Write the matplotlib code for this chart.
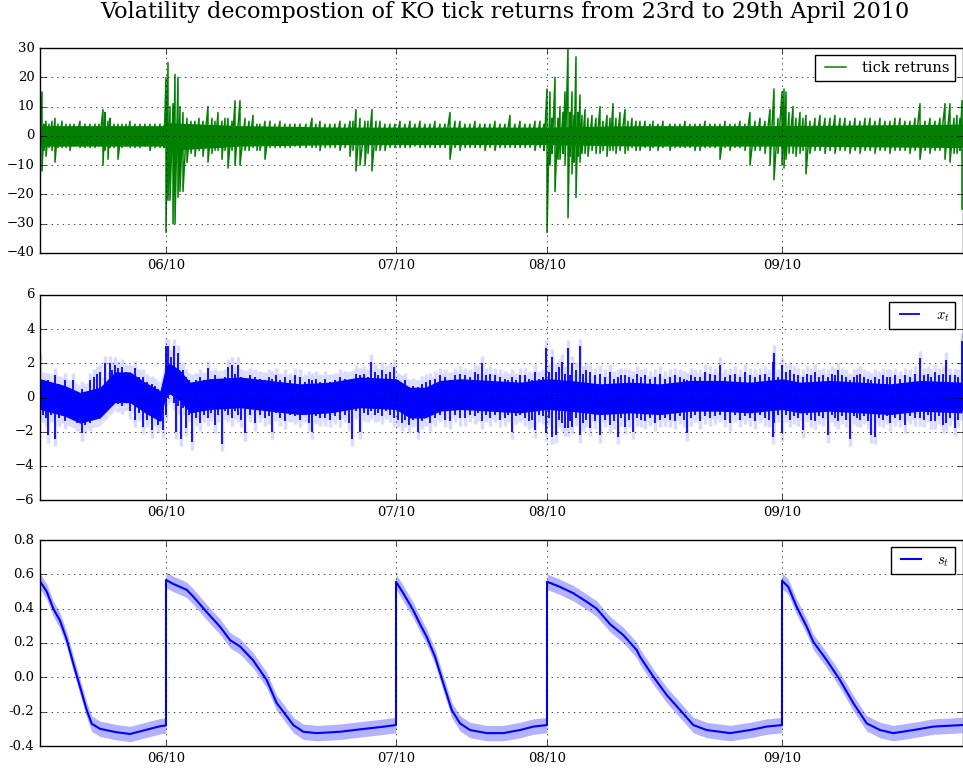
import numpy as np
import matplotlib
matplotlib.use('Agg')
import matplotlib.pyplot as plt

# x axis is tick number (in hundreds) over the five trading days
day_starts = [126, 356, 507, 742]
day_labels = ['06/10', '07/10', '08/10', '09/10']
x_end = 922.5

# --- tick returns: core band + high/low of each small bucket of ticks ---
tr_band_x = [0, 126, 127, 200, 300, 507, 600, 742, 922]
tr_band_hi = [3.5, 3.5, 4.5, 3.5, 3, 3, 3.5, 3.5, 4]
tr_band_lo = [-3.5, -3.5, -5, -3.5, -3, -3, -3.5, -3.5, -4]

tr_x = [0, 2, 4, 6, 9, 12, 15, 18, 22, 26, 30, 34, 40, 45, 50, 55, 59, 63, 65, 68, 70, 74, 78, 82, 86,
        90, 95, 100, 105, 110, 115, 120, 124,
        126, 128, 130, 133, 135, 138, 140, 143, 147, 151, 155, 159, 163, 168, 172, 175, 178, 182, 185,
        188, 192, 195, 200, 205, 209, 213, 217, 220, 225, 230, 235, 240, 245, 250, 255, 260, 266, 272,
        276, 280, 285, 290, 295, 300, 305, 310, 313, 316, 320, 325, 328, 332, 336, 340, 345, 350, 355,
        360, 365, 370, 375, 380, 385, 390, 395, 400, 405, 410, 415, 420, 425, 430, 435, 440, 445, 450,
        455, 460, 465, 470, 475, 480, 485, 490, 495, 500, 504,
        507, 510, 512, 515, 518, 520, 523, 525, 528, 530, 532, 534, 536, 538, 540, 542, 545, 548, 552,
        556, 560, 563, 567, 570, 573, 576, 580, 585, 588, 592, 596, 600, 605, 610, 613, 618, 623, 630,
        635, 640, 645, 650, 655, 660, 665, 670, 675, 680, 685, 690, 695, 700, 705, 710, 715, 720, 725,
        730, 734, 738,
        742, 744, 746, 749, 753, 756, 760, 763, 766, 770, 775, 780, 785, 790, 795, 800, 805, 810, 815,
        820, 825, 830, 835, 840, 845, 850, 855, 860, 865, 870, 875, 880, 885, 890, 895, 900, 905, 910,
        914, 917, 920, 922]
tr_hi = [5, 15, 4, 5, 4, 5, 6, 4, 5, 4, 4, 4, 5, 4, 4, 4, 4, 9, 8, 5, 6, 4, 4, 4, 4,
         5, 4, 4, 4, 4, 4, 4, 3.5,
         20, 25, 10, 11, 21, 20, 10, 8, 6, 5, 5, 6, 5, 10, 6, 5, 8, 5, 6,
         6, 5, 12, 12, 6, 5, 7, 4, 4, 5, 5, 4, 5, 4, 4, 4, 4, 4, 6,
         4, 5, 4, 4, 4, 5, 4, 5, 5, 9, 6, 5, 5, 9, 5, 5, 4, 4, 4,
         5, 4, 5, 4, 5, 4, 4, 5, 4, 4, 8, 5, 5, 4, 4, 5, 4, 4, 4,
         5, 4, 4, 7, 4, 5, 4, 4, 5, 5, 4,
         16, 15, 6, 20, 6, 10, 8, 15, 30, 8, 15, 7, 27, 8, 14, 7, 9, 6, 7,
         6, 10, 5, 7, 6, 11, 6, 8, 9, 5, 6, 5, 5, 5, 4, 5, 4, 5, 4,
         4, 4, 5, 4, 4, 4, 5, 4, 4, 4, 5, 4, 4, 5, 4, 8, 5, 6, 5,
         9, 16, 6,
         15, 16, 15, 8, 10, 6, 8, 6, 7, 5, 6, 7, 6, 6, 7, 6, 6, 5, 6,
         5, 6, 6, 5, 6, 5, 5, 6, 6, 5, 5, 6, 11, 5, 6, 5, 6, 11, 11,
         6, 7, 6, 12]
tr_lo = [-6, -12, -5, -7, -4, -5, -9, -4, -4, -4, -5, -3.5, -4, -4, -4, -4, -3.5, -10, -5, -8, -4, -4, -8, -4, -3.5,
         -4, -4, -4, -3.5, -5, -4, -4, -4,
         -33, -22, -22, -30, -30, -21, -19, -19, -9, -6, -7, -5, -7, -9, -6, -5, -5, -8, -5,
         -11, -5, -10, -10, -5, -5, -4, -5, -5, -8, -4, -4, -4, -4, -4, -3.5, -4, -4, -4,
         -4, -5, -4, -4, -4, -5, -4, -7, -5, -12, -10, -10, -6, -12, -5, -5, -5, -4, -4,
         -4, -4, -4, -3.5, -4, -4, -4, -4, -4, -4, -8, -4, -5, -4, -4, -4, -4, -5, -4,
         -5, -4, -4, -4, -4, -4, -4, -4, -5, -4, -5,
         -33, -10, -6, -19, -8, -8, -6, -10, -28, -7, -13, -9, -21, -7, -9, -6, -6, -7, -5,
         -6, -6, -5, -7, -5, -5, -6, -5, -6, -5, -4, -5, -5, -4, -5, -4, -5, -4, -5,
         -4, -4, -4, -4, -5, -5, -4, -4, -4, -8, -4, -5, -4, -4, -5, -10, -5, -5, -6,
         -10, -15, -6,
         -10, -11, -8, -6, -6, -7, -6, -5, -13, -6, -5, -5, -6, -5, -6, -5, -5, -6, -5,
         -6, -5, -5, -6, -5, -5, -6, -5, -5, -5, -6, -5, -8, -5, -6, -5, -5, -8, -9,
         -6, -6, -5, -25]

# --- x_t: core of the dense line, confidence halo, bucket highs/lows ---
xt_band_x = [0, 25, 40, 60, 75, 90, 105, 120, 126, 130, 140, 150, 170, 200, 230, 260, 290, 320,
             356, 370, 385, 400, 420, 450, 480, 507, 530, 560, 590, 620, 650, 680, 710, 742, 760, 790,
             820, 850, 880, 922]
xt_mean = [0.2, -0.2, -0.6, -0.3, 0.6, 0.6, 0.0, -0.5, 1.0, 1.1, 0.7, 0.0, 0.2, 0.3, 0.1, -0.1, 0.0, 0.3,
           0.2, -0.3, -0.3, 0.1, 0.2, 0.1, 0.0, 0.2, 0.1, -0.1, 0.0, -0.1, 0.1, 0.1, 0.0, 0.2, 0.0, 0.1,
           0.0, -0.1, 0.1, 0.0]
xt_half = 0.9
xt_ci_pad = 0.45

xt_x = [0, 3, 6, 8, 11, 15, 19, 22, 25, 29, 33, 37, 42, 45, 50, 54, 57, 60, 65, 70, 72, 75, 78, 82, 86,
        90, 95, 99, 103, 107, 112, 115, 118, 121, 123,
        126, 128, 131, 134, 136, 138, 141, 143, 146, 149, 152, 156, 160, 164, 168, 171, 175, 178, 182,
        185, 188, 192, 195, 198, 201, 205, 210, 215, 220, 225, 229, 232, 236, 240, 245, 250, 255, 260,
        265, 269, 272, 276, 280, 285, 290, 295, 300, 305, 309, 312, 316, 320, 324, 328, 331, 335, 338,
        342, 346, 350, 354,
        358, 362, 365, 369, 373, 378, 382, 386, 390, 395, 400, 405, 410, 415, 420, 425, 430, 435, 438,
        442, 446, 450, 455, 460, 465, 468, 472, 476, 480, 485, 489, 492, 495, 499, 503,
        506, 509, 512, 516, 519, 522, 525, 528, 530, 532, 536, 540, 543, 546, 550, 555, 560, 565, 570,
        574, 578, 581, 585, 589, 593, 597, 601, 605, 610, 615, 620, 625, 630, 635, 640, 644, 647, 651,
        655, 660, 665, 670, 675, 680, 685, 690, 695, 700, 705, 710, 715, 720, 725, 729, 733, 734, 738,
        742, 746, 750, 754, 758, 763, 767, 771, 775, 779, 783, 788, 792, 795, 798, 802, 806, 810, 814,
        817, 820, 824, 828, 831, 835, 839, 843, 847, 850, 855, 860, 865, 870, 875, 880, 884, 888, 891,
        895, 899, 903, 906, 910, 915, 918, 922]
xt_hi = [2.1, 1.0, 0.8, 1.0, 0.6, 1.3, 0.8, 0.6, 1.0, 0.5, 1.0, 0.3, 0.5, 0.2, 1.0, 1.2, 1.4, 1.5, 2.0, 2.0, 1.6, 1.9, 1.7, 1.8, 1.5,
         1.4, 1.7, 1.2, 1.2, 0.9, 0.8, 0.7, 0.5, 0.4, 0.3,
         3.0, 3.0, 2.4, 3.0, 1.5, 2.6, 1.5, 1.6, 1.2, 1.0, 0.8, 1.0, 1.2, 1.0, 1.7, 1.1, 1.3, 1.0, 0.8,
         1.2, 1.8, 1.9, 1.4, 1.9, 1.2, 1.0, 1.3, 1.2, 1.1, 1.0, 1.2, 1.1, 1.3, 1.0, 1.2, 1.0, 1.3, 1.2,
         0.9, 1.1, 1.0, 1.1, 0.9, 1.1, 0.9, 1.0, 1.2, 1.1, 1.0, 1.0, 1.4, 1.3, 1.4, 1.2, 2.1, 1.5, 1.3,
         1.6, 1.4, 1.5, 1.8,
         1.0, 0.8, 1.0, 0.6, 0.7, 0.6, 0.8, 0.9, 1.0, 1.1, 1.3, 1.2, 1.0, 1.3, 1.4, 1.3, 1.2, 1.5, 1.4,
         2.0, 1.3, 1.4, 1.3, 1.2, 1.1, 1.0, 1.2, 1.0, 1.3, 1.3, 1.1, 1.0, 1.5, 1.1, 1.2,
         2.9, 1.5, 2.4, 1.5, 1.8, 2.1, 1.4, 2.9, 1.3, 2.0, 1.6, 3.0, 1.4, 1.6, 1.5, 1.3, 1.4, 1.2, 1.5,
         1.1, 1.2, 1.3, 1.3, 1.2, 1.1, 1.4, 1.2, 1.3, 1.1, 1.2, 1.4, 1.1, 1.2, 1.3, 1.2, 1.1, 1.0, 1.3,
         1.2, 1.2, 1.5, 1.4, 1.3, 1.9, 1.2, 1.3, 1.4, 1.2, 1.5, 1.3, 1.2, 1.3, 1.4, 1.2, 2.1, 2.6, 1.2,
         1.9, 1.5, 1.6, 1.4, 1.3, 1.2, 1.4, 1.3, 1.5, 1.2, 1.3, 1.2, 1.4, 1.3, 1.6, 1.3, 1.2, 1.0, 1.2,
         1.3, 1.4, 1.2, 1.1, 1.0, 1.2, 1.1, 1.3, 1.2, 1.2, 1.3, 1.1, 1.3, 1.2, 1.4, 2.3, 1.3, 1.4, 1.2,
         1.5, 1.3, 1.4, 2.2, 1.3, 1.3, 1.2, 3.3]
xt_lo = [-0.8, -1.0, -1.2, -2.2, -1.0, -2.4, -1.2, -1.0, -1.4, -1.1, -1.2, -1.5, -2.1, -1.6, -1.5, -0.8, -0.6, -1.0, -0.8, -0.5, -0.2, 0.0, -0.4, -0.5, -0.3,
         -0.8, -1.3, -0.9, -1.7, -1.3, -1.9, -1.2, -1.6, -1.4, -1.9,
         -1.0, 0.0, 0.2, -0.3, -2.0, -0.5, -2.4, -0.6, -1.8, -1.0, -2.6, -1.2, -1.5, -1.0, -1.2, -0.9, -1.6, -1.0, -2.7,
         -0.8, -1.0, -1.2, -0.8, -1.0, -1.3, -2.1, -1.0, -1.5, -1.0, -1.2, -1.1, -2.0, -0.9, -1.2, -1.4, -1.0, -1.1, -1.3,
         -1.0, -1.5, -2.0, -1.1, -1.2, -1.2, -1.3, -1.1, -1.3, -1.0, -1.5, -2.4, -0.8, -2.0, -0.9, -1.0, -0.8, -1.0, -0.9,
         -1.1, -0.8, -1.0, -1.2,
         -1.3, -1.5, -1.3, -1.6, -1.3, -2.0, -1.4, -1.2, -1.5, -1.2, -1.0, -1.3, -1.4, -1.0, -1.2, -1.2, -1.0, -1.1, -0.9,
         -1.4, -1.0, -1.2, -1.0, -1.3, -1.2, -1.0, -2.0, -1.1, -1.0, -1.2, -1.4, -1.3, -1.9, -1.0, -1.1,
         -2.1, -1.2, -2.3, -2.2, -1.3, -1.5, -1.8, -1.8, -1.4, -1.7, -1.2, -2.2, -1.5, -1.3, -1.8, -1.4, -2.2, -1.3, -1.6,
         -1.4, -2.3, -1.2, -1.7, -1.3, -2.0, -1.2, -1.3, -1.4, -1.2, -1.5, -1.3, -1.2, -1.3, -1.4, -1.1, -1.3, -2.1, -1.2,
         -1.0, -1.4, -1.1, -1.2, -1.1, -1.0, -1.3, -1.5, -1.0, -1.3, -1.1, -1.2, -1.4, -1.0, -1.2, -1.3, -2.3, -1.5, -1.0,
         -2.1, -1.0, -1.3, -1.1, -1.2, -1.9, -1.0, -1.3, -1.4, -1.1, -1.2, -2.2, -1.0, -1.2, -1.4, -1.1, -1.3, -2.4, -1.1,
         -1.2, -1.3, -1.1, -1.4, -2.2, -2.3, -1.2, -1.3, -1.1, -1.5, -1.2, -1.3, -1.6, -1.1, -1.2, -1.2, -1.3, -1.0, -1.4,
         -1.4, -1.1, -1.6, -1.5, -1.2, -1.8, -1.3, -0.8]

# --- s_t: intraday seasonal component ---
st_x = [0, 6.7, 13.3, 20, 26.7, 33.3, 40, 46.7, 51.7, 60, 76.7, 90, 100, 110, 120, 126,
        126, 133, 146.7, 153.3, 166.7, 180, 190, 200, 213, 226.7, 236.7, 243.3, 253.3, 263.3, 276.7, 300, 320, 340, 356,
        356, 363.3, 373.3, 380, 386.7, 395, 403.3, 411.7, 420, 430, 446.7, 463.3, 480, 493.3, 507,
        507, 520, 533.3, 546.7, 556.7, 570, 583.3, 596.7, 600, 613.3, 626.7, 640, 653.3, 666.7, 690, 710, 726.7, 742,
        742, 748.3, 756.7, 766.7, 773.3, 786.7, 800, 813.3, 826.7, 840, 853.3, 873.3, 893.3, 922]
st_val = [0.56, 0.50, 0.40, 0.33, 0.22, 0.08, -0.055, -0.19, -0.27, -0.30, -0.32, -0.33, -0.315, -0.30, -0.285, -0.28,
          0.567, 0.545, 0.51, 0.47, 0.38, 0.295, 0.217, 0.18, 0.10, -0.016, -0.15, -0.20, -0.278, -0.317, -0.325, -0.317, -0.303, -0.29, -0.278,
          0.557, 0.49, 0.39, 0.31, 0.236, 0.12, -0.035, -0.19, -0.268, -0.307, -0.325, -0.325, -0.307, -0.287, -0.278,
          0.557, 0.527, 0.49, 0.44, 0.40, 0.31, 0.246, 0.159, 0.12, 0.004, -0.103, -0.19, -0.278, -0.307, -0.325, -0.307, -0.287, -0.278,
          0.563, 0.527, 0.41, 0.295, 0.207, 0.10, -0.016, -0.15, -0.268, -0.307, -0.325, -0.307, -0.287, -0.278]
st_ci = 0.045


def zigzag(xs, hi, lo):
    # draw each bucket as a vertical stroke high -> low, joined to the next
    zx = np.repeat(xs, 2)
    zy = np.column_stack([hi, lo]).ravel()
    return zx, zy


plt.style.use('classic')
plt.rcParams['font.family'] = 'serif'
plt.rcParams['font.serif'] = ['DejaVu Serif']
plt.rcParams['mathtext.fontset'] = 'cm'

fig = plt.figure(figsize=(9.63, 7.73), dpi=100)
W, H = 963.0, 773.0

def make_axes(top, bottom):
    return fig.add_axes([40 / W, 1 - bottom / H, (962.5 - 40) / W, (bottom - top) / H])

ax1 = make_axes(48, 253)
ax2 = make_axes(295, 500)
ax3 = make_axes(540, 746)

# tick returns
ax1.fill_between(tr_band_x, tr_band_lo, tr_band_hi, color='g', lw=0)
zx, zy = zigzag(tr_x, tr_hi, tr_lo)
ax1.plot(zx, zy, color='g', lw=1.1, label='tick retruns')
ax1.set_ylim(-40, 30)
ax1.set_yticks(range(-40, 31, 10))

# x_t  (zorders set by hand: halo under the solid core, core under the strokes)
xm = np.array(xt_mean)
hi = np.array(xt_hi)
lo = np.array(xt_lo)
ax2.fill_between(xt_band_x, xm - xt_half - xt_ci_pad, xm + xt_half + xt_ci_pad,
                 color=(0.88, 0.88, 1.0), lw=0, zorder=1)
ax2.vlines(xt_x, lo - xt_ci_pad, hi + xt_ci_pad, color=(0.86, 0.86, 1.0), lw=2.5, zorder=1.2)
ax2.fill_between(xt_band_x, xm - xt_half, xm + xt_half, color='b', lw=0, zorder=1.5)
ax2.vlines(xt_x, lo, hi, color='b', lw=1.3, zorder=2, label='$x_t$')
ax2.set_ylim(-6, 6)
ax2.set_yticks(range(-6, 7, 2))

# s_t
sv = np.array(st_val)
ax3.fill_between(st_x, sv - st_ci, sv + st_ci, color='b', alpha=0.3, lw=0)
ax3.plot(st_x, sv, 'b-', lw=1.5, label='$s_t$')
ax3.set_ylim(-0.4, 0.8)
ax3.set_yticks(np.arange(-0.4, 0.81, 0.2))
ax3.yaxis.set_major_formatter(matplotlib.ticker.FormatStrFormatter('%.1f'))

for ax in (ax1, ax2, ax3):
    ax.set_xlim(0, x_end)
    ax.set_xticks(day_starts)
    ax.set_xticklabels(day_labels)
    ax.tick_params(labelsize=9.5)
    ax.grid(True)
    ax.legend(loc='upper right', fontsize=10.5)

fig.text(505 / W, 1 - 12 / H, 'Volatility decompostion of KO tick returns from 23rd to 29th April 2010',
         ha='center', va='center', fontsize=16)

plt.savefig('out.png', dpi=100)
